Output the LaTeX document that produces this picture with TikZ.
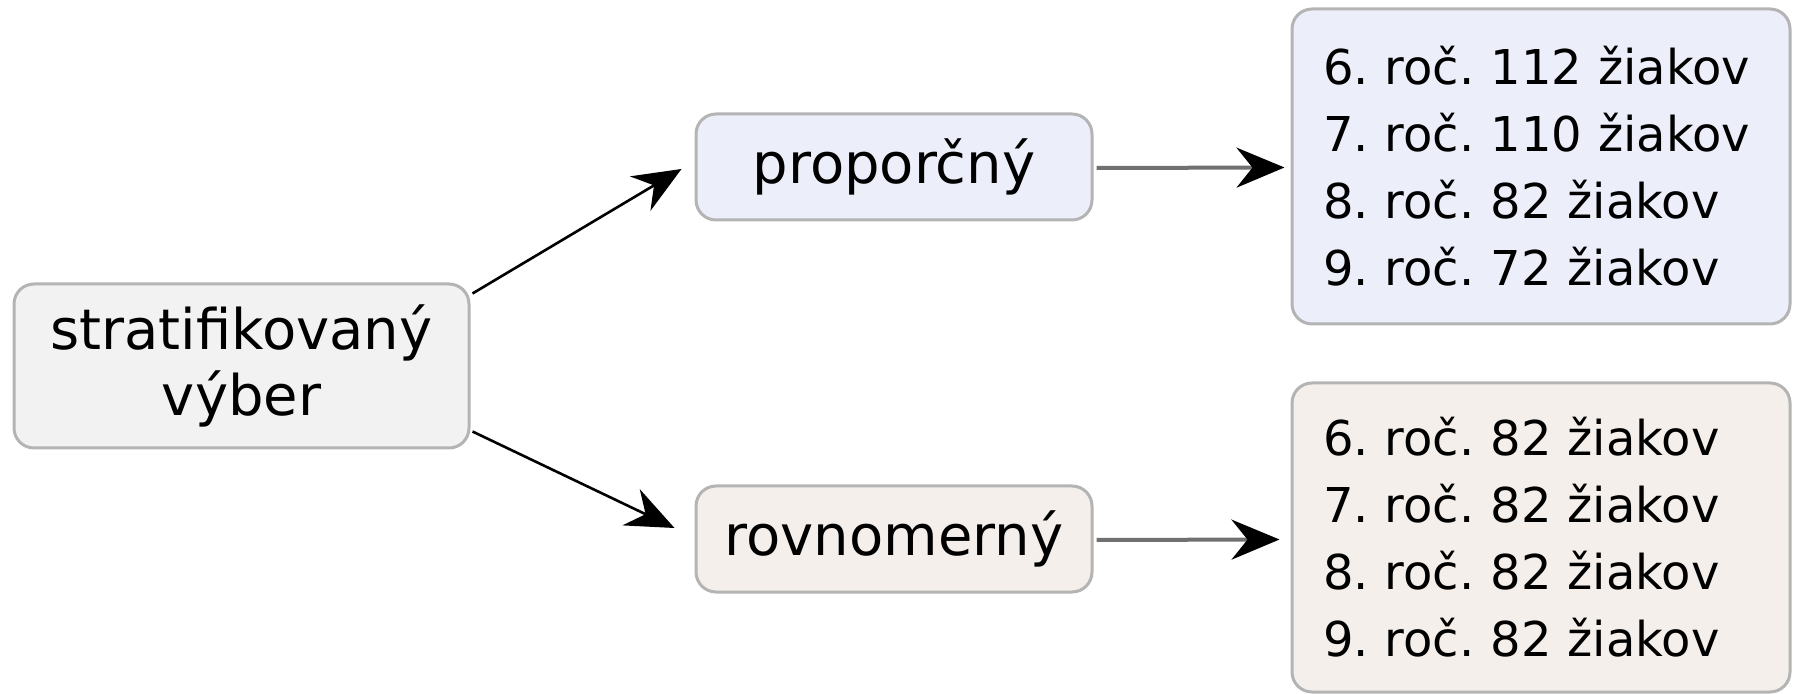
\documentclass[tikz,border=0pt]{standalone}
\usepackage{fontspec}
\setmainfont{DejaVu Sans}
\usetikzlibrary{arrows.meta,calc}
\definecolor{boxline}{HTML}{B4B4B4}
\definecolor{grayfill}{HTML}{F2F2F2}
\definecolor{bluefill}{HTML}{ECEEF9}
\definecolor{beigefill}{HTML}{F4EFEA}
\definecolor{shaft}{HTML}{707070}
\frenchspacing
\tikzset{
  box/.style={draw=boxline, line width=1.5pt, rounded corners=10pt, inner sep=0pt, align=center},
  bigtxt/.style={font=\fontsize{28pt}{33pt}\selectfont},
  listtxt/.style={font=\fontsize{24pt}{33.5pt}\selectfont\frenchspacing},
  diag/.style={line width=1.3pt, black, -{Stealth[length=24pt,width=20pt,inset=8pt]}},
  horiz/.style={line width=2pt, shaft, -{Stealth[length=24pt,width=20pt,inset=8pt,color=black]}}
}
\begin{document}
\begin{tikzpicture}[x=0.5pt,y=-0.5pt]
\useasboundingbox (0,0) rectangle (1793,694);
\node[box, bigtxt, fill=grayfill, minimum width=227.5pt, minimum height=82pt] (sv) at (241.5,366) {stratifikovaný\\výber};
\node[box, bigtxt, fill=bluefill, minimum width=198pt, minimum height=53pt] (prop) at (894,167) {proporčný};
\node[box, bigtxt, fill=beigefill, minimum width=198pt, minimum height=53pt] (rov) at (894,539) {rovnomerný};
\node[box, listtxt, fill=bluefill, minimum width=249pt, minimum height=157.5pt, text width=218pt, align=left] (lp) at (1541,166.5)
  {6. roč. 112 žiakov\\7. roč. 110 žiakov\\8. roč. 82 žiakov\\9. roč. 72 žiakov};
\node[box, listtxt, fill=beigefill, minimum width=249pt, minimum height=154.5pt, text width=218pt, align=left] (lr) at (1541,537.5)
  {6. roč. 82 žiakov\\7. roč. 82 žiakov\\8. roč. 82 žiakov\\9. roč. 82 žiakov};
\draw[diag] ($(sv.north east)+(2,11)$) -- ($(prop.west)+(-13,2)$);
\draw[diag] ($(sv.south east)+(2,-18)$) -- ($(rov.west)+(-20,-11)$);
\draw[horiz] ($(prop.east)+(3,1)$) -- ($(lp.west)+(-6,1)$);
\draw[horiz] ($(rov.east)+(3,1)$) -- ($(lr.west)+(-11,2)$);
\end{tikzpicture}
\end{document}
